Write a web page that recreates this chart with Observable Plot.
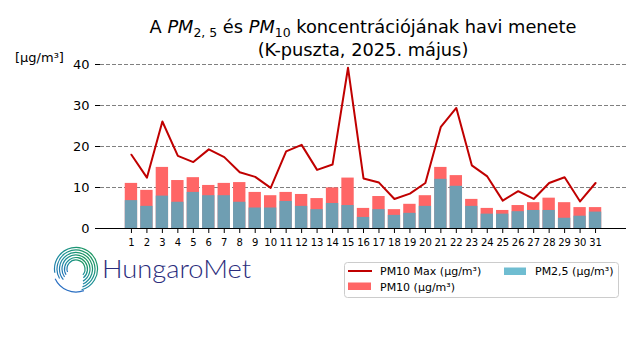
<!DOCTYPE html>
<html>
<head>
<meta charset="utf-8">
<script src="https://cdn.jsdelivr.net/npm/d3@7"></script>
<script src="https://cdn.jsdelivr.net/npm/@observablehq/plot@0.6"></script>
<style>
  body { margin: 0; background: #fff; font-family: "DejaVu Sans", sans-serif; }
  #wrap { position: relative; width: 640px; height: 360px; overflow: hidden; background: #fff; }
  #title { position: absolute; left: 100px; width: 526px; top: 16px; text-align: center;
           font-size: 17.8px; line-height: 22.5px; color: #000; white-space: nowrap; }
  #title i { font-style: oblique; }
  #title sub { font-size: 70%; vertical-align: -0.3em; line-height: 0; }
  #ylab { position: absolute; left: 15px; top: 50px; font-size: 13px; color: #000; white-space: nowrap; }
  #chart { position: absolute; left: 0; top: 54px; }
  #legend { position: absolute; left: 0; top: 0; }
  #logo { position: absolute; left: 40px; top: 240px; }
</style>
</head>
<body>
<div id="wrap">
  <div id="title">A <i>PM</i><sub>2, 5</sub> és <i>PM</i><sub>10</sub> koncentrációjának havi menete<br>(K-puszta, 2025. május)</div>
  <div id="ylab">[μg/m³]</div>
  <div id="chart"></div>
  <svg id="logo" width="220" height="60" viewBox="0 0 220 60"></svg>
  <svg id="legend" width="640" height="360" style="pointer-events:none"></svg>
</div>
<script>
// ---- data ----
const days = [1,2,3,4,5,6,7,8,9,10,11,12,13,14,15,16,17,18,19,20,21,22,23,24,25,26,27,28,29,30,31];
const pm10 = [11.0,9.3,14.9,11.7,12.4,10.5,11.0,11.2,8.8,8.0,8.8,8.3,7.3,9.9,12.3,4.9,7.8,4.6,5.9,8.0,14.9,12.9,7.1,4.9,4.4,5.6,6.3,7.4,6.3,5.1,5.1];
const pm25 = [6.8,5.4,7.9,6.4,8.8,8.0,8.0,6.4,5.0,5.0,6.6,5.4,4.6,6.1,5.6,2.7,4.6,3.2,3.7,5.4,12.0,10.3,5.4,3.5,3.5,4.1,4.4,4.4,2.5,3.0,4.0];
const pm10max = [18.0,12.4,26.1,17.7,16.2,19.3,17.4,13.7,12.6,9.9,18.8,20.4,14.3,15.6,39.2,12.2,11.2,7.2,8.5,11.1,24.8,29.4,15.4,12.7,6.8,9.1,7.2,11.1,12.5,6.6,11.1];
const yTicks = [0,10,20,30,40];
const gridVals = [10,20,30,40];
const legendLabels = ["PM10 Max (μg/m³)", "PM10 (μg/m³)", "PM2,5 (μg/m³)"];

const colPM10 = "#ff6666";
const colPM25 = "#4bacc6";
const colMax = "#c00000";

const data = days.map((d, i) => ({day: d, pm10: pm10[i], pm25: pm25[i], max: pm10max[i]}));

const plot = Plot.plot({
  width: 640,
  height: 196,
  marginLeft: 100,
  marginRight: 14,
  marginTop: 10,
  marginBottom: 22,
  style: {fontFamily: "DejaVu Sans, sans-serif", color: "#000", background: "transparent", overflow: "visible"},
  x: {type: "linear", domain: [-1, 33], axis: null},
  y: {domain: [0, 40], axis: null},
  marks: [
    Plot.ruleY(gridVals, {stroke: "#808080", strokeWidth: 1, strokeDasharray: "4,2"}),
    Plot.rect(data, {x1: d => d.day - 0.4, x2: d => d.day + 0.4, y1: () => 0, y2: "pm10", fill: colPM10}),
    Plot.rect(data, {x1: d => d.day - 0.4, x2: d => d.day + 0.4, y1: () => 0, y2: "pm25", fill: colPM25, fillOpacity: 0.8}),
    Plot.line(data, {x: "day", y: "max", stroke: colMax, strokeWidth: 2}),
    Plot.ruleY([0], {stroke: "#000", strokeWidth: 1.2}),
    Plot.axisX(days, {tickSize: 5, tickPadding: 5, fontSize: 10, label: null, tickFormat: d => String(d), stroke: "#000"}),
    Plot.axisY(yTicks, {anchor: "left", tickSize: 5, tickPadding: 6, fontSize: 13, label: null, tickFormat: d => String(d), stroke: "#000"})
  ]
});
document.getElementById("chart").appendChild(plot);

// ---- legend ----
const lg = d3.select("#legend");
const L = 344, T = 262;
lg.append("rect").attr("x", L + 0.5).attr("y", T + 0.5).attr("width", 274).attr("height", 35)
  .attr("rx", 3).attr("fill", "#fff").attr("fill-opacity", 0.8).attr("stroke", "#cccccc");
lg.append("line").attr("x1", L + 4).attr("x2", L + 28).attr("y1", T + 9).attr("y2", T + 9)
  .attr("stroke", colMax).attr("stroke-width", 2);
lg.append("rect").attr("x", L + 4).attr("y", T + 20.5).attr("width", 23).attr("height", 7.5).attr("fill", colPM10);
lg.append("rect").attr("x", L + 160).attr("y", T + 5.5).attr("width", 22).attr("height", 7.5).attr("fill", colPM25).attr("fill-opacity", 0.8);
const lt = [[L + 36, T + 9.5, legendLabels[0]], [L + 36, T + 25, legendLabels[1]], [L + 191, T + 9.5, legendLabels[2]]];
lt.forEach(([x, y, s]) => lg.append("text").attr("x", x).attr("y", y).attr("dy", "0.35em")
  .attr("font-family", "DejaVu Sans, sans-serif").attr("font-size", 11).attr("fill", "#000").text(s));

// ---- logo ----
const lo = d3.select("#logo");
const defs = lo.append("defs");
const gr = defs.append("linearGradient").attr("id", "lgGrad").attr("x1", "1").attr("y1", "0").attr("x2", "0").attr("y2", "1");
gr.append("stop").attr("offset", "0").attr("stop-color", "#1f9a4e");
gr.append("stop").attr("offset", "0.5").attr("stop-color", "#1b8f98");
gr.append("stop").attr("offset", "1").attr("stop-color", "#2a6fc2");
const cx = 36, cy = 29;
function arcPath(r, a0, a1) {
  const rad = a => a * Math.PI / 180;
  const x0 = cx + r * Math.cos(rad(a0)), y0 = cy + r * Math.sin(rad(a0));
  const x1 = cx + r * Math.cos(rad(a1)), y1 = cy + r * Math.sin(rad(a1));
  const large = (a1 - a0) > 180 ? 1 : 0;
  return `M${x0},${y0} A${r},${r} 0 ${large} 1 ${x1},${y1}`;
}
[[9, 160, 400], [11.5, 150, 410], [14, 145, 420], [16.5, 140, 425], [19, 150, 430], [21.5, 170, 435]].forEach(([r, a0, a1]) => {
  lo.append("path").attr("d", arcPath(r, a0, a1)).attr("fill", "none").attr("stroke", "url(#lgGrad)").attr("stroke-width", 1.2);
});
lo.append("path").attr("d", arcPath(23, 70, 155)).attr("fill", "none").attr("stroke", "#2a6fc2").attr("stroke-width", 1.2);
lo.append("text").attr("x", 62).attr("y", 37.5).attr("font-family", "Lato, sans-serif").attr("font-weight", 300).attr("font-size", 26)
  .attr("fill", "#2b2d7c").attr("textLength", 149).attr("lengthAdjust", "spacingAndGlyphs").text("HungaroMet");
</script>
</body>
</html>
